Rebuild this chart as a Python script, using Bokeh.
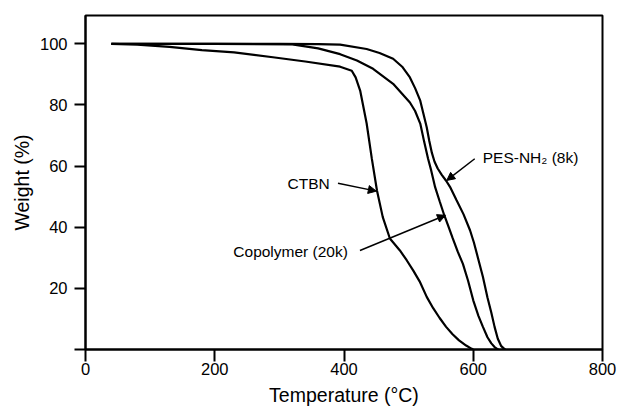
from bokeh.plotting import figure
from bokeh.models import Range1d, FixedTicker, Arrow, NormalHead, Label
from bokeh.embed import file_html
from bokeh.resources import INLINE

# ---- data ----
ctbn_t = [40, 80, 130, 180, 230, 290, 340, 394, 412, 418, 425, 435, 443, 451, 460, 471, 486.5, 497, 507,
          517, 528, 538, 548, 558, 568, 578, 589, 597, 600]
ctbn_w = [100, 99.7, 99.0, 97.9, 97.2, 95.6, 94.2, 92.5, 91.2, 89, 84.7, 74, 62.5, 52, 43.3, 36.3, 32.4, 29.2, 25.9,
          22.3, 17.2, 13.5, 10.3, 7.4, 5.0, 3.0, 1.3, 0.3, 0]

copo_t = [40, 200, 320, 360, 394, 420, 445, 476, 502, 510, 518, 524, 530, 535, 541, 548, 555, 562, 568, 576,
          584, 592, 600, 608, 615, 622, 628, 633, 637, 639]
copo_w = [100, 100, 99.8, 98.5, 96.6, 94.5, 91.8, 86.9, 80.8, 78, 73.9, 68, 62.5, 58.5, 53.1, 48.5, 44, 40, 36.5, 32,
          28, 22.5, 16.1, 11, 7.4, 4, 2, 0.8, 0.2, 0]

pes_t = [40, 200, 300, 360, 394, 435, 455, 476, 490, 502, 510, 518, 523, 528, 532, 536, 540, 545, 551, 558,
         564, 574, 585, 595, 601, 607, 615, 622, 628, 633, 638, 643, 648, 650]
pes_w = [100, 100, 100, 99.9, 99.7, 98.3, 97, 95.1, 92.5, 89, 85.5, 81.4, 77, 72.7, 68.2, 64.3, 61.5, 59.2, 57.2, 55.2,
         53.2, 48.9, 44.2, 39, 35, 30.2, 23.7, 17, 12, 7.4, 3.5, 1.2, 0.2, 0]

x_ticks = [0, 200, 400, 600, 800]
y_ticks = [0, 20, 40, 60, 80, 100]
y_tick_labels = {0: "", 20: "20", 40: "40", 60: "60", 80: "80", 100: "100"}

labels = ["CTBN", "Copolymer (20k)", "PES-NH\u2082 (8k)"]

FONT = "Liberation Sans"

p = figure(width=618, height=410, x_range=Range1d(0, 800), y_range=Range1d(0, 109.25),
           output_backend="svg", toolbar_location=None,
           min_border_left=85, min_border_right=16, min_border_top=15, min_border_bottom=61)

p.xgrid.visible = False
p.ygrid.visible = False
p.outline_line_color = "black"
p.outline_line_width = 2
p.background_fill_color = "white"
p.border_fill_color = "white"

for ax in (p.xaxis[0], p.yaxis[0]):
    ax.axis_line_width = 2
    ax.axis_line_color = "black"
    ax.major_tick_line_width = 2
    ax.major_tick_line_color = "black"
    ax.major_tick_in = 0
    ax.minor_tick_line_color = None
    ax.major_label_text_font = FONT
    ax.major_label_text_font_size = "16.5px"
    ax.major_label_text_color = "black"
    ax.axis_label_text_font = FONT
    ax.axis_label_text_font_size = "19.5px"
    ax.axis_label_text_font_style = "normal"
    ax.axis_label_text_color = "black"

p.xaxis.ticker = FixedTicker(ticks=x_ticks)
p.yaxis.ticker = FixedTicker(ticks=y_ticks)
p.yaxis.major_label_overrides = y_tick_labels
p.xaxis.axis_label = "Temperature (\u00b0C)"
p.yaxis.axis_label = "Weight (%)"
p.xaxis.major_tick_out = 12
p.yaxis.major_tick_out = 11
p.xaxis.major_label_standoff = 1
p.xaxis.axis_label_standoff = 6
p.yaxis.major_label_standoff = 7
p.yaxis.axis_label_standoff = 4

for t, w in ((ctbn_t, ctbn_w), (copo_t, copo_w), (pes_t, pes_w)):
    p.line(t, w, line_color="black", line_width=2.2)

head = dict(size=8, fill_color="black", line_color="black", line_width=1)
# annotations
p.add_layout(Label(x=378, y=54.3, text=labels[0], text_align="right", text_baseline="middle",
                   text_font=FONT, text_font_size="15.5px", text_color="black"))
p.add_layout(Arrow(end=NormalHead(**head),
                   x_start=390.7, y_start=54.4, x_end=450, y_end=51.8, line_width=1.5, line_color="black"))

p.add_layout(Label(x=406, y=31.9, text=labels[1], text_align="right", text_baseline="middle",
                   text_font=FONT, text_font_size="15.5px", text_color="black"))
p.add_layout(Arrow(end=NormalHead(**head),
                   x_start=424.7, y_start=32.4, x_end=557, y_end=43.9, line_width=1.5, line_color="black"))

p.add_layout(Label(x=614.7, y=62.9, text=labels[2], text_align="left", text_baseline="middle",
                   text_font=FONT, text_font_size="15.5px", text_color="black"))
p.add_layout(Arrow(end=NormalHead(**head),
                   x_start=602.3, y_start=62.4, x_end=559, y_end=55.3, line_width=1.5, line_color="black"))

open("out.html", "w").write(file_html(p, INLINE))
